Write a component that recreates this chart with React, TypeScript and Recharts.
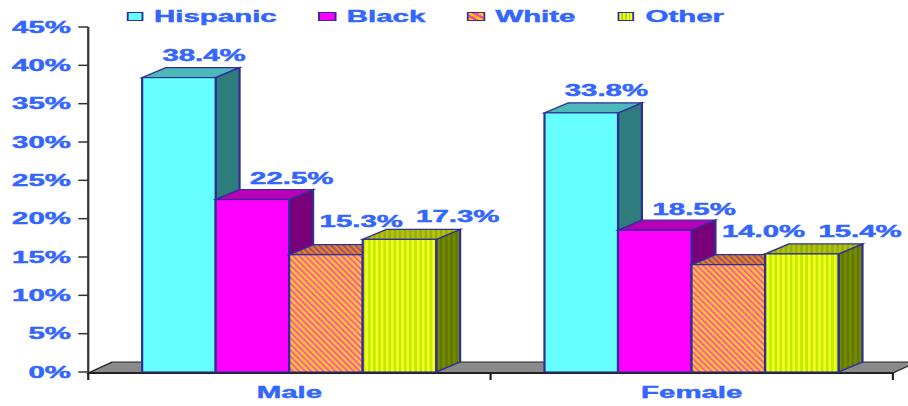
import React from 'react';
import { BarChart, Bar, XAxis, YAxis, ReferenceArea, LabelList } from 'recharts';

// ---- data ----
const categories = ['Male', 'Female'];
const hispanic = [38.4, 33.8];
const black = [22.5, 18.5];
const white = [15.3, 14.0];
const other = [17.3, 15.4];
const yTicks = [0, 5, 10, 15, 20, 25, 30, 35, 40, 45];

const data = categories.map((name, i) => ({
  name,
  Hispanic: hispanic[i],
  Black: black[i],
  White: white[i],
  Other: other[i],
}));

// ---- styling ----
const S = 908 / 494; // horizontal stretch of the whole picture
const W0 = 494;
const H = 406;
const FONT = '"Liberation Sans", Arial, sans-serif';
const BLUE = '#3366FF';
const EDGE = '#2E2E99';
const DX = 13; // depth (pre-stretch units)
const DY = 10;

const fmt = (v: number) => `${v.toFixed(1)}%`;

const make3D = (front: string, top: string, side: string) => (props: any) => {
  const { x, y, width: w, height: h } = props;
  if (w == null || h == null) return null;
  return (
    <g>
      <polygon
        points={`${x + w},${y} ${x + w + DX},${y - DY} ${x + w + DX},${y + h - DY} ${x + w},${y + h}`}
        fill={side}
        stroke={EDGE}
        strokeWidth={1.2}
      />
      <polygon
        points={`${x},${y} ${x + w},${y} ${x + w + DX},${y - DY} ${x + DX},${y - DY}`}
        fill={top}
        stroke={EDGE}
        strokeWidth={1.2}
      />
      <rect x={x} y={y} width={w} height={h} fill={front} stroke={EDGE} strokeWidth={1.2} />
    </g>
  );
};

const series = [
  { key: 'Hispanic', front: '#66FFFF', top: '#4CB8B8', side: '#2F7C7C', icon: '#66FFFF', ldx: 13.7, ldy: -17 },
  { key: 'Black', front: '#FF00FF', top: '#B800B8', side: '#7A007A', icon: '#FF00FF', ldx: 21.4, ldy: -15 },
  { key: 'White', front: 'url(#patWhite)', top: 'url(#patWhiteTop)', side: 'url(#patWhiteSide)', icon: 'repeating-linear-gradient(45deg, #FFCC00 0px, #FFCC00 2px, #FF44AA 2px, #FF44AA 4px)', ldx: 19.2, ldy: -28 },
  { key: 'Other', front: 'url(#patOther)', top: 'url(#patOtherTop)', side: 'url(#patOtherSide)', icon: 'repeating-linear-gradient(90deg, #FFFF33 0px, #FFFF33 1px, #AADD00 1px, #AADD00 2px)', ldx: 31.7, ldy: -17 },
];

const StretchText = (props: any) => (
  <text
    x={props.x}
    y={props.y}
    dy={props.dy}
    textAnchor={props.anchor}
    fill={BLUE}
    stroke={BLUE}
    strokeWidth={0.45}
    fontFamily={FONT}
    fontWeight="bold"
    fontSize={16}
  >
    {props.children}
  </text>
);

const YTick = (props: any) => {
  const { x, y, payload } = props;
  return (
    <StretchText x={x} y={y} dy="0.36em" anchor="end">
      {`${payload.value}%`}
    </StretchText>
  );
};

const XTick = (props: any) => {
  const { x, y, payload } = props;
  return (
    <StretchText x={x} y={y + 26} anchor="middle">
      {payload.value}
    </StretchText>
  );
};

const Floor = (props: any) => {
  const { x, y, width, height } = props;
  const b = y + height;
  const fy = b + 1;
  const bounds = [x, x + width / 2, x + width];
  return (
    <g>
      <polygon
        points={`${x},${fy} ${x + width},${fy} ${x + width + DX},${fy - 11} ${x + DX},${fy - 11}`}
        fill="#8A8A8A"
        stroke="#222"
        strokeWidth={1}
      />
      <line x1={x} y1={fy} x2={x + width} y2={fy} stroke="#222" strokeWidth={2} />
      {bounds.map((bx, i) => (
        <line key={i} x1={bx} y1={fy} x2={bx} y2={fy + 7} stroke="#222" strokeWidth={1.2} />
      ))}
    </g>
  );
};

const Legend = () => (
  <div
    style={{
      position: 'absolute',
      top: 8.5,
      left: 68.6,
      display: 'flex',
      alignItems: 'center',
      fontFamily: FONT,
      fontWeight: 'bold',
      fontSize: 16,
      lineHeight: '16px',
      color: BLUE,
      WebkitTextStroke: `0.45px ${BLUE}`,
      whiteSpace: 'nowrap',
    }}
  >
    {series.map((s) => (
      <div key={s.key} style={{ display: 'flex', alignItems: 'center', marginRight: 22.9 }}>
        <span
          style={{
            display: 'inline-block',
            width: 9.25,
            height: 9,
            boxSizing: 'border-box',
            border: `1px solid ${EDGE}`,
            background: s.icon,
            marginRight: 6,
          }}
        />
        <span>{s.key}</span>
      </div>
    ))}
  </div>
);

export default function App() {
  return (
    <div
      style={{
        position: 'absolute',
        left: 0,
        top: 0,
        width: W0,
        height: H,
        transform: `scaleX(${S})`,
        transformOrigin: '0 0',
        background: '#fff',
      }}
    >
      <BarChart
        width={W0}
        height={H}
        data={data}
        margin={{ top: 27, right: 8.2, bottom: 4, left: 0 }}
        barCategoryGap="13.4%"
        barGap={0}
      >
        <defs>
          <pattern id="patWhite" patternUnits="userSpaceOnUse" width={2.9} height={10} patternTransform="rotate(-28.5)">
            <rect x={0} y={0} width={2.9} height={10} fill="#FFCC22" />
            <rect x={0} y={0} width={1.35} height={10} fill="#FF55AA" />
          </pattern>
          <pattern id="patWhiteTop" patternUnits="userSpaceOnUse" width={2.9} height={10} patternTransform="rotate(-28.5)">
            <rect x={0} y={0} width={2.9} height={10} fill="#C89A10" />
            <rect x={0} y={0} width={1.35} height={10} fill="#C03A88" />
          </pattern>
          <pattern id="patWhiteSide" patternUnits="userSpaceOnUse" width={2.9} height={10} patternTransform="rotate(-28.5)">
            <rect x={0} y={0} width={2.9} height={10} fill="#806600" />
            <rect x={0} y={0} width={1.35} height={10} fill="#802266" />
          </pattern>
          <pattern id="patOther" patternUnits="userSpaceOnUse" width={2.8} height={10}>
            <rect x={0} y={0} width={2.8} height={10} fill="#BBEE00" />
            <rect x={0} y={0} width={1.3} height={10} fill="#FFFF22" />
          </pattern>
          <pattern id="patOtherTop" patternUnits="userSpaceOnUse" width={2.8} height={10}>
            <rect x={0} y={0} width={2.8} height={10} fill="#8FB300" />
            <rect x={0} y={0} width={1.3} height={10} fill="#BFBF10" />
          </pattern>
          <pattern id="patOtherSide" patternUnits="userSpaceOnUse" width={2.8} height={10}>
            <rect x={0} y={0} width={2.8} height={10} fill="#5E7A00" />
            <rect x={0} y={0} width={1.3} height={10} fill="#7A8A00" />
          </pattern>
        </defs>
        <ReferenceArea y1={0} y2={45} shape={(p: any) => <Floor {...p} />} fill="none" stroke="none" />
        <XAxis
          dataKey="name"
          axisLine={false}
          tickLine={false}
          tickSize={0}
          tickMargin={0}
          height={30}
          tick={<XTick />}
          interval={0}
        />
        <YAxis
          width={48}
          domain={[0, 45]}
          ticks={yTicks}
          interval={0}
          axisLine={{ stroke: '#333', strokeWidth: 1.2 }}
          tickLine={{ stroke: '#333', strokeWidth: 1.5 }}
          tickSize={5.4}
          tickMargin={4}
          tick={<YTick />}
        />
        {series.map((s) => (
          <Bar
            key={s.key}
            dataKey={s.key}
            isAnimationActive={false}
            shape={make3D(s.front, s.top, s.side)}
          >
            <LabelList
              dataKey={s.key}
              content={(p: any) => (
                <StretchText x={p.x + p.width / 2 + s.ldx} y={p.y + s.ldy} anchor="middle">
                  {fmt(Number(p.value))}
                </StretchText>
              )}
            />
          </Bar>
        ))}
      </BarChart>
      <Legend />
    </div>
  );
}
